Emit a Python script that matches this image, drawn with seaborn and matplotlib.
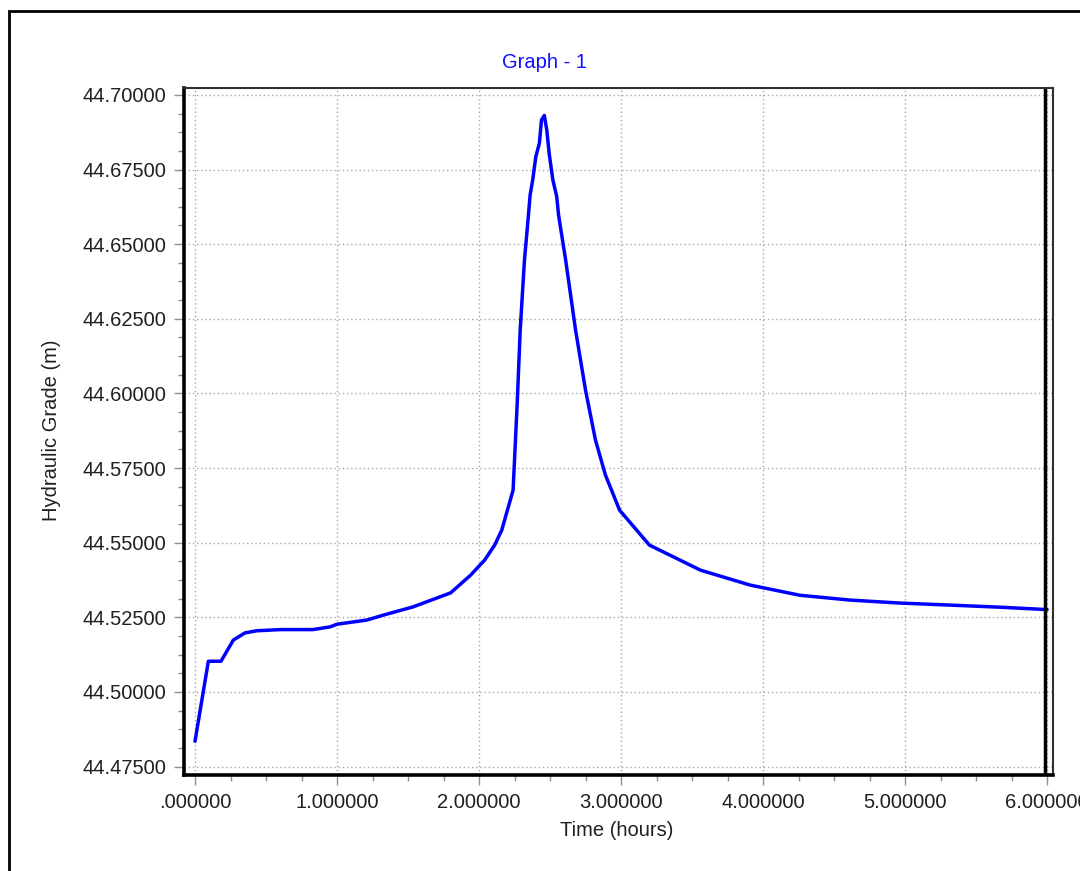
import numpy as np
import pandas as pd
import seaborn as sns
import matplotlib
matplotlib.use("Agg")
import matplotlib.pyplot as plt
from matplotlib.patches import Rectangle
from matplotlib.ticker import FuncFormatter, MultipleLocator, AutoMinorLocator

time_hours = [0.0, 0.094, 0.183, 0.27, 0.352, 0.434, 0.60, 0.83, 0.95, 1.0,
              1.21, 1.33, 1.535, 1.80, 1.94, 2.04, 2.11, 2.16, 2.20, 2.24,
              2.27, 2.29, 2.32, 2.34, 2.36, 2.378, 2.40, 2.425, 2.44, 2.46,
              2.477, 2.495, 2.52, 2.547, 2.56, 2.61, 2.68, 2.75, 2.82, 2.89,
              2.99, 3.20, 3.56, 3.91, 4.26, 4.61, 4.96, 5.32, 5.67, 6.0]
hydraulic_grade = [44.4835, 44.5103, 44.5103, 44.5174, 44.5198, 44.5205, 44.5209, 44.5209, 44.5218, 44.5227,
                   44.5241, 44.5258, 44.5285, 44.5332, 44.5391, 44.5442, 44.5492, 44.5542, 44.5609, 44.5676,
                   44.5978, 44.6212, 44.6447, 44.6553, 44.6665, 44.6715, 44.6793, 44.6838, 44.6916, 44.6931,
                   44.6883, 44.6800, 44.6715, 44.6660, 44.6598, 44.6447, 44.6212, 44.6011, 44.5844, 44.5727,
                   44.5609, 44.5492, 44.5408, 44.5358, 44.5324, 44.5308, 44.5298, 44.5291, 44.5284, 44.5276]

title_text = "Graph - 1"
x_label = "Time (hours)"
y_label = "Hydraulic Grade (m)"

df = pd.DataFrame({"t": time_hours, "h": hydraulic_grade})

sns.set_style("white")
plt.rcParams['font.family'] = ['Liberation Sans', 'DejaVu Sans']

FS = 14.5

fig = plt.figure(figsize=(10.8, 8.71), dpi=100)
ax = fig.add_axes([184/1080, 1-775/871, (1053-184)/1080, (775-88)/871])

sns.lineplot(data=df, x="t", y="h", ax=ax, color="#0000ff", linewidth=2.5, estimator=None, sort=False)

ax.set_xlim(-0.0775, 6.042)
ax.set_ylim(44.4722, 44.7023)

ax.xaxis.set_major_locator(MultipleLocator(1.0))
ax.xaxis.set_minor_locator(AutoMinorLocator(4))
ax.yaxis.set_major_locator(MultipleLocator(0.025))
ax.yaxis.set_minor_locator(AutoMinorLocator(4))

def xfmt(v, pos):
    s = "%.6f" % v
    if s.startswith("0."):
        s = s[1:]
    return s
ax.xaxis.set_major_formatter(FuncFormatter(xfmt))
ax.yaxis.set_major_formatter(FuncFormatter(lambda v, p: "%.5f" % v))

ax.tick_params(axis="both", which="major", direction="out", length=7, width=1,
               color="#909090", labelsize=FS, labelcolor="#202020",
               bottom=True, left=True)
ax.tick_params(axis="y", which="major", pad=6)
ax.tick_params(axis="x", which="major", pad=6)
ax.tick_params(axis="both", which="minor", direction="out", length=4, width=1,
               color="#909090", bottom=True, left=True)

ax.grid(True, which="major", linestyle=(0, (1, 2)), color="#a8a8a8", linewidth=1)

for side in ["left", "bottom"]:
    ax.spines[side].set_color("black")
    ax.spines[side].set_linewidth(2.6)
ax.spines["top"].set_color("#303030")
ax.spines["top"].set_linewidth(1.5)
ax.spines["right"].set_color("#303030")
ax.spines["right"].set_linewidth(1.5)

ax.axvline(5.985, color="black", linewidth=2.5)

ax.set_xlabel("")
ax.set_ylabel("")
fig.text(617/1080, 1-830/871, x_label, ha="center", va="center", fontsize=FS, color="#202020")
fig.text(52/1080, 1-430/871, y_label, ha="center", va="center", rotation=90, fontsize=FS, color="#202020")
fig.text(545/1080, 1-62/871, title_text, ha="center", va="center", fontsize=FS, color="#1010ff")

fig.patches.append(Rectangle((8.5/1080, -0.1), 1.2, (1-11/871)+0.1, fill=False,
                             edgecolor="black", linewidth=2, transform=fig.transFigure,
                             clip_on=False))

fig.savefig("out.png", dpi=100, facecolor="white")
